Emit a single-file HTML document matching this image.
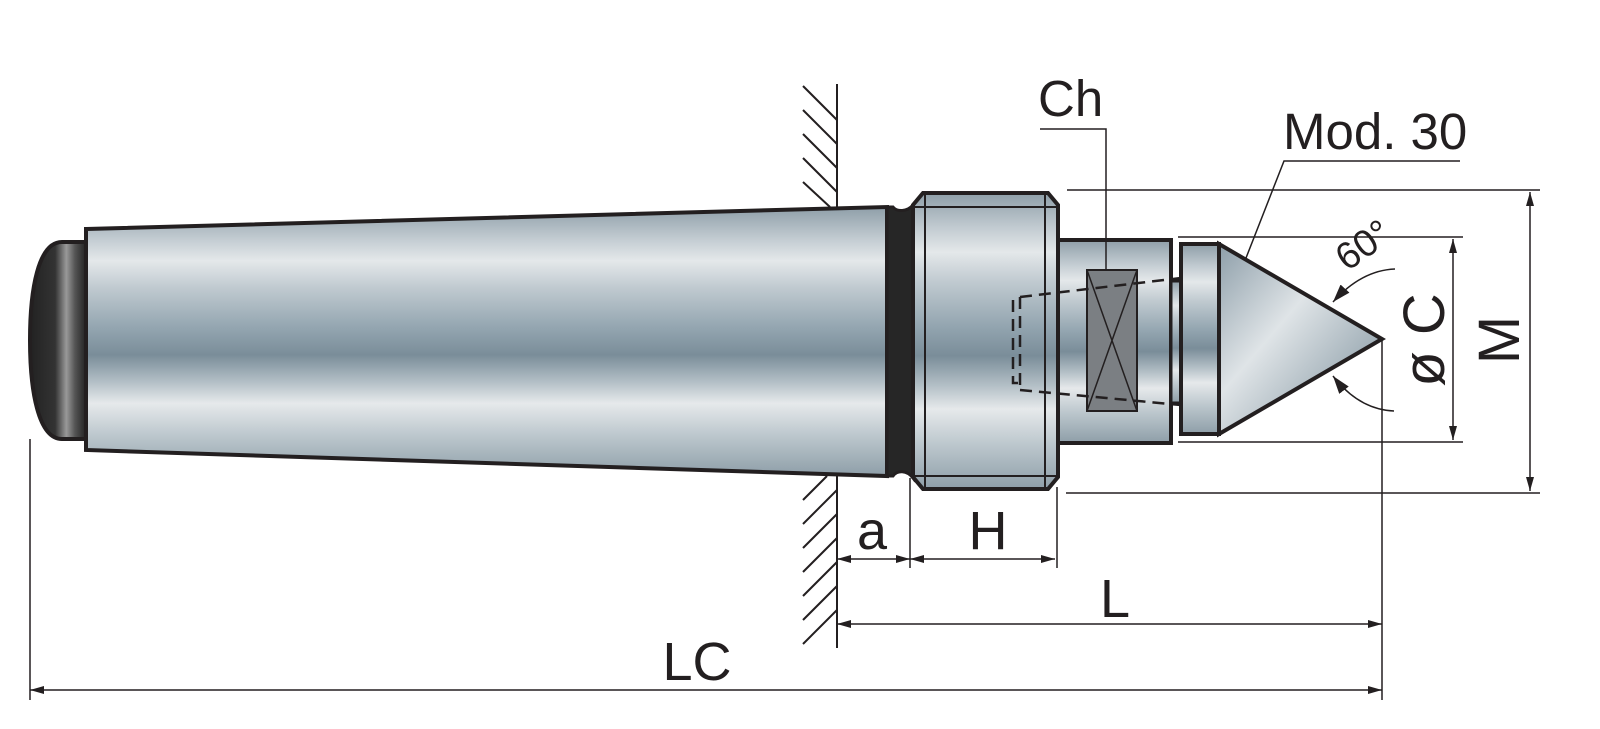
<!DOCTYPE html>
<html><head><meta charset="utf-8"><style>
html,body{margin:0;padding:0;background:#fff;}
svg{display:block;}
text{font-family:"Liberation Sans",Arial,sans-serif;fill:#231f20;}
</style></head><body>
<svg width="1600" height="729" viewBox="0 0 1600 729" xmlns="http://www.w3.org/2000/svg">
<defs>
<linearGradient id="st" x1="0" y1="0" x2="0" y2="1">
<stop offset="0" stop-color="#8e9ea8"/>
<stop offset="0.12" stop-color="#c3ccd2"/>
<stop offset="0.2" stop-color="#e4e8ea"/>
<stop offset="0.3" stop-color="#c0cad0"/>
<stop offset="0.45" stop-color="#93a5b0"/>
<stop offset="0.55" stop-color="#7a8d99"/>
<stop offset="0.65" stop-color="#b3bfc6"/>
<stop offset="0.73" stop-color="#e6e9eb"/>
<stop offset="0.85" stop-color="#bcc7cd"/>
<stop offset="1" stop-color="#8e9ea8"/>
</linearGradient>
<linearGradient id="cap" x1="0" y1="0" x2="1" y2="0">
<stop offset="0" stop-color="#222"/>
<stop offset="0.45" stop-color="#333"/>
<stop offset="0.65" stop-color="#999"/>
<stop offset="0.8" stop-color="#555"/>
<stop offset="1" stop-color="#222"/>
</linearGradient>
<linearGradient id="cone" x1="0" y1="0" x2="1" y2="1">
<stop offset="0" stop-color="#8d9ea9"/>
<stop offset="0.4" stop-color="#dfe4e7"/>
<stop offset="0.7" stop-color="#a9b6be"/>
<stop offset="1" stop-color="#7f929e"/>
</linearGradient>
<marker id="ar" viewBox="0 0 14 8" refX="14" refY="4" markerWidth="14" markerHeight="8" markerUnits="userSpaceOnUse" orient="auto-start-reverse"><path d="M0,0 L14,4 L0,8 z" fill="#231f20"/></marker>
<marker id="ar2" viewBox="0 0 18 12" refX="18" refY="6" markerWidth="18" markerHeight="12" markerUnits="userSpaceOnUse" orient="auto"><path d="M0,0 L18,6 L0,12 z" fill="#231f20"/></marker>
</defs>

<path d="M86,242 L62,242 C38,242 30,290 30,340 C30,390 38,439 62,439 L86,439 Z" fill="url(#cap)" stroke="#231f20" stroke-width="4"/>
<path d="M86,229 L887,207 L887,476 L86,450 Z" fill="url(#st)" stroke="#231f20" stroke-width="4"/>
<path d="M887,207 L893,207 C897,212 907,212 913,205 L913,478 C907,470 897,470 893,476 L887,476 Z" fill="#262626" stroke="#231f20" stroke-width="3"/>
<path d="M923,193 L1048,193 L1058,205 L1058,477 L1048,489 L923,489 L913,477 L913,205 Z" fill="url(#st)" stroke="#231f20" stroke-width="4"/>
<path d="M925,195 V487 M1045,195 V487 M913,207 H1058 M913,476 H1058" stroke="#231f20" stroke-width="2" fill="none"/>
<rect x="1058" y="240" width="113" height="203" fill="url(#st)" stroke="#231f20" stroke-width="4"/>
<rect x="1171" y="281" width="10" height="122" fill="url(#st)" stroke="#231f20" stroke-width="3"/>
<rect x="1181" y="244" width="38" height="190" fill="url(#st)" stroke="#231f20" stroke-width="4"/>
<path d="M1219,244 L1382,339 L1219,434 Z" fill="url(#cone)" stroke="#231f20" stroke-width="4"/>
<rect x="1087" y="270" width="50" height="141" fill="#7b7f83" stroke="#231f20" stroke-width="2"/>
<path d="M1087,270 L1137,411 M1137,270 L1087,411" stroke="#231f20" stroke-width="1.5"/>
<path d="M1020,297 L1181,278 M1020,390 L1181,405 M1020,297 L1020,390 M1013,300 L1013,383 L1020,383" stroke="#231f20" stroke-width="2.5" stroke-dasharray="12,7" fill="none"/>

<line x1="837" y1="84" x2="837" y2="207" stroke="#231f20" stroke-width="2"/>
<line x1="837" y1="476" x2="837" y2="648" stroke="#231f20" stroke-width="2"/>
<g stroke="#231f20" stroke-width="2">
<line x1="803" y1="86" x2="837" y2="120"/><line x1="803" y1="110" x2="837" y2="144"/><line x1="803" y1="134" x2="837" y2="168"/>
<line x1="803" y1="158" x2="837" y2="192"/><line x1="803" y1="182" x2="830" y2="207"/>
<line x1="803" y1="500" x2="827" y2="476"/><line x1="803" y1="524" x2="837" y2="490"/><line x1="803" y1="548" x2="837" y2="514"/>
<line x1="803" y1="572" x2="837" y2="538"/><line x1="803" y1="596" x2="837" y2="562"/><line x1="803" y1="620" x2="837" y2="586"/>
<line x1="803" y1="644" x2="837" y2="610"/>
</g>

<g stroke="#231f20" stroke-width="1.5" fill="none">
<line x1="910" y1="478" x2="910" y2="568"/>
<line x1="1057" y1="487" x2="1057" y2="568"/>
<line x1="30" y1="439" x2="30" y2="700"/>
<line x1="1382" y1="339" x2="1382" y2="700"/>
<line x1="1067" y1="190" x2="1540" y2="190"/>
<line x1="1066" y1="493" x2="1540" y2="493"/>
<line x1="1178" y1="237" x2="1463" y2="237"/>
<line x1="1178" y1="442" x2="1463" y2="442"/>
<line x1="837" y1="559" x2="910" y2="559" marker-start="url(#ar)" marker-end="url(#ar)"/>
<line x1="910" y1="559" x2="1055" y2="559" marker-start="url(#ar)" marker-end="url(#ar)"/>
<line x1="837" y1="624" x2="1382" y2="624" marker-start="url(#ar)" marker-end="url(#ar)"/>
<line x1="30" y1="690" x2="1382" y2="690" marker-start="url(#ar)" marker-end="url(#ar)"/>
<line x1="1453" y1="239" x2="1453" y2="440" marker-start="url(#ar)" marker-end="url(#ar)"/>
<line x1="1530" y1="192" x2="1530" y2="491" marker-start="url(#ar)" marker-end="url(#ar)"/>
<polyline points="1040,129 1106,129 1106,270"/>
<polyline points="1460,161 1284,161 1246,258"/>
<path d="M1395,269 C1370,270 1350,283 1333,302" marker-end="url(#ar2)"/>
<path d="M1394,411 C1370,410 1350,398 1333,376" marker-end="url(#ar2)"/>
</g>

<text x="1038" y="116" font-size="51">Ch</text>
<text x="1283" y="149" font-size="51">Mod. 30</text>
<text x="1347" y="272" font-size="38" transform="rotate(-35 1347 272)">60°</text>
<text x="1444" y="340" font-size="58" text-anchor="middle" transform="rotate(-90 1444 340)">ø C</text>
<text x="1519" y="340" font-size="58" text-anchor="middle" transform="rotate(-90 1519 340)">M</text>
<text x="872" y="549" font-size="54" text-anchor="middle">a</text>
<text x="988" y="549" font-size="54" text-anchor="middle">H</text>
<text x="1115" y="617" font-size="54" text-anchor="middle">L</text>
<text x="697" y="680" font-size="54" text-anchor="middle">LC</text>
</svg>
</body></html>
